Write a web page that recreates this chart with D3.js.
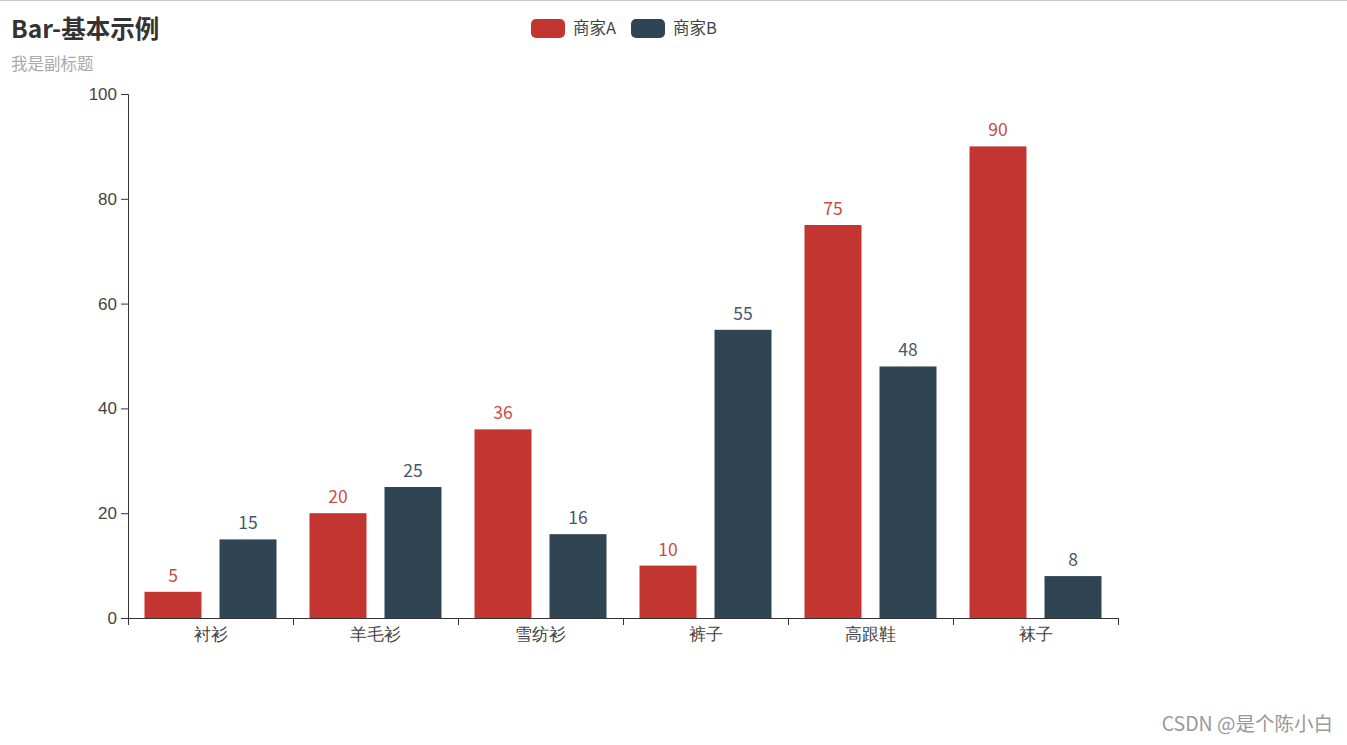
<!DOCTYPE html>
<html><head><meta charset="utf-8">
<script src="https://cdn.jsdelivr.net/npm/d3@7"></script>
<style>
html,body{margin:0;padding:0;background:#fff;}
svg{display:block;font-family:"Noto Sans CJK SC","Noto Sans",sans-serif;}
</style></head>
<body>
<script>
const categories = ["衬衫","羊毛衫","雪纺衫","裤子","高跟鞋","袜子"];
const seriesNames = ["商家A","商家B"];
const valuesA = [5,20,36,10,75,90];
const valuesB = [15,25,16,55,48,8];
const yTicks = [0,20,40,60,80,100];
const colors = ["#c23531","#2f4554"];
const labelColors = ["#cc4a46","#46586a"];

(function(){
const W = 1347, H = 745;
const svg = d3.select("body").append("svg").attr("width",W).attr("height",H);

svg.append("line").attr("x1",0).attr("x2",W).attr("y1",0.5).attr("y2",0.5).attr("stroke","#c8c8c8").attr("stroke-width",1);

const pL = 128, pR = 1118, pT = 94, pB = 618;
const x = d3.scaleBand().domain(categories).range([pL,pR]).paddingInner(0).paddingOuter(0);
const inner = d3.scaleBand().domain(seriesNames).range([0,x.bandwidth()]).paddingInner(0.24).paddingOuter(0.22);
const y = d3.scaleLinear().domain([0,100]).range([pB,pT]);

// title
svg.append("text").attr("x",11).attr("y",38).attr("font-size",24.5).attr("font-weight","bold").attr("fill","#333").text("Bar-基本示例");
svg.append("text").attr("x",11).attr("y",70).attr("font-size",16.5).attr("fill","#aaa").text("我是副标题");

// legend
const legendX = [531,631];
seriesNames.forEach((s,i)=>{
  svg.append("rect").attr("x",legendX[i]).attr("y",19).attr("width",34).attr("height",19).attr("rx",5).attr("fill",colors[i]);
  svg.append("text").attr("x",legendX[i]+42).attr("y",34).attr("font-size",16.5).attr("fill","#444").text(s);
});

// bars
const data = [valuesA, valuesB];
data.forEach((vals,si)=>{
  const g = svg.append("g");
  g.selectAll("rect").data(categories).enter().append("rect")
    .attr("x",(c)=>x(c)+inner(seriesNames[si]))
    .attr("width",inner.bandwidth())
    .attr("y",(c,i)=>y(vals[i]))
    .attr("height",(c,i)=>pB-y(vals[i]))
    .attr("fill",colors[si]);
  g.selectAll("text").data(categories).enter().append("text")
    .attr("x",(c)=>x(c)+inner(seriesNames[si])+inner.bandwidth()/2)
    .attr("y",(c,i)=>y(vals[i])-10)
    .attr("text-anchor","middle").attr("font-size",17.5)
    .attr("fill",labelColors[si]).text((c,i)=>vals[i]);
});

// axes
const yAxis = d3.axisLeft(y).tickValues(yTicks).tickSize(7).tickPadding(4);
const gy = svg.append("g").attr("transform",`translate(${pL},0)`).call(yAxis);
gy.select(".domain").attr("stroke","#333").attr("d",`M-7,${pT+0.5}H0.5V${pB}`);
gy.selectAll(".tick line").attr("stroke","#333");
gy.selectAll(".tick text").attr("font-size",17).attr("fill","#444").attr("font-family",null);

const xAxis = d3.axisBottom(x).tickSize(0).tickPadding(10);
const gx = svg.append("g").attr("transform",`translate(0,${pB})`).call(xAxis);
gx.select(".domain").attr("stroke","#333").attr("d",`M${pL},0.5H${pR}`);
gx.selectAll(".tick text").attr("font-size",17).attr("fill","#444").attr("font-family",null);
const bounds = categories.map(c=>x(c)).concat([pR]);
gx.selectAll(".btick").data(bounds).enter().append("line")
  .attr("x1",d=>Math.round(d)+0.5).attr("x2",d=>Math.round(d)+0.5).attr("y1",0).attr("y2",7).attr("stroke","#333");

// watermark
svg.append("text").attr("x",1333).attr("y",731).attr("text-anchor","end").attr("font-size",19.5).attr("fill","#999").text("CSDN @是个陈小白");
})();
</script>
</body></html>
